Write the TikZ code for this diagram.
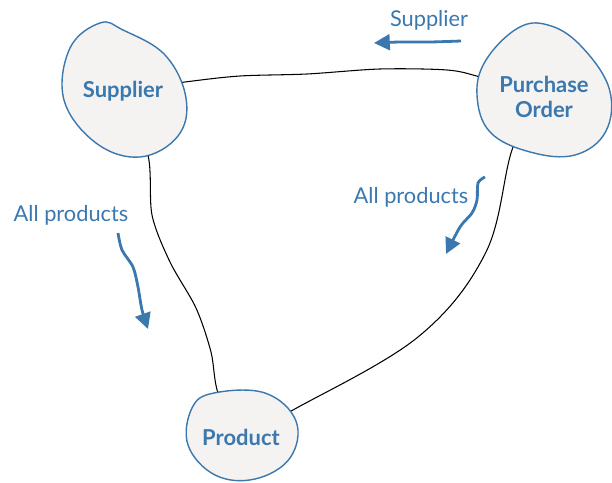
\documentclass[tikz,border=0pt]{standalone}
\usepackage{fontspec}
\setmainfont{Lato}
\usetikzlibrary{arrows.meta}
\definecolor{erblue}{RGB}{59,120,174}
\definecolor{blobfill}{RGB}{244,243,242}
\pgfdeclarelayer{background}
\pgfsetlayers{background,main}

\begin{document}
\begin{tikzpicture}[x=0.02cm, y=-0.02cm,
    entity/.style={font=\fontsize{12.5}{14}\selectfont\bfseries, text=erblue, align=center},
    blob/.style={draw=erblue, line width=0.8pt, fill=blobfill},
    link/.style={draw=black, line width=0.6pt},
    flow/.style={draw=erblue, line width=1.6pt, -{Triangle[length=9pt, width=9pt]}},
    lbl/.style={font=\fontsize{12.4}{14}\selectfont, text=erblue}
]
\useasboundingbox (0,0) rectangle (612,483);

% entities
\node[entity] (sup) at (123,91) {Supplier};
\node[entity] (po) at (544,97) {Purchase\\Order};
\node[entity] (prod) at (241,437) {Product};

% labels
\node[lbl] (lsup) at (429,20) {Supplier};
\node[lbl] (lall1) at (71,215) {All products};
\node[lbl] (lall2) at (411,197) {All products};

\begin{pgfonlayer}{background}
% relations, ends hidden under the blobs
\draw[link] plot[smooth] coordinates {(sup) (185,82) (240,76) (307,74) (380,69) (447,70) (480,77) (po)};
\draw[link] plot[smooth] coordinates {(sup) (148,155) (152,215) (170,262) (196,308) (211,352) (218,393) (prod)};
\draw[link] plot[smooth, tension=0.6] coordinates {(po) (513,147) (486,252) (418,337) (293,410) (prod)};

% blobs
\draw[blob] plot[smooth cycle, tension=0.65] coordinates {(100,23) (123,30) (165,55) (186,98) (178,136) (140,157) (96,143) (64,100) (70,48)};
\draw[blob] plot[smooth cycle, tension=0.65] coordinates {(486,60) (518,28) (548,25) (580,45) (609,88) (606,131) (575,155) (530,152) (490,132) (477,95)};
\draw[blob] plot[smooth cycle, tension=0.65] coordinates {(214,393) (265,393) (296,421) (290,458) (255,479) (215,475) (188,445) (192,408)};
\end{pgfonlayer}

% direction arrows
\draw[flow] plot[smooth] coordinates {(461,41) (430,42) (400,42) (374,43)};
\draw[flow] plot[smooth] coordinates {(118,233) (122,250) (133,267) (138,287) (142,310) (148,329)};
\draw[flow] plot[smooth] coordinates {(485,177) (478,183) (477,200) (472,213) (460,227) (446,254)};
\end{tikzpicture}
\end{document}
